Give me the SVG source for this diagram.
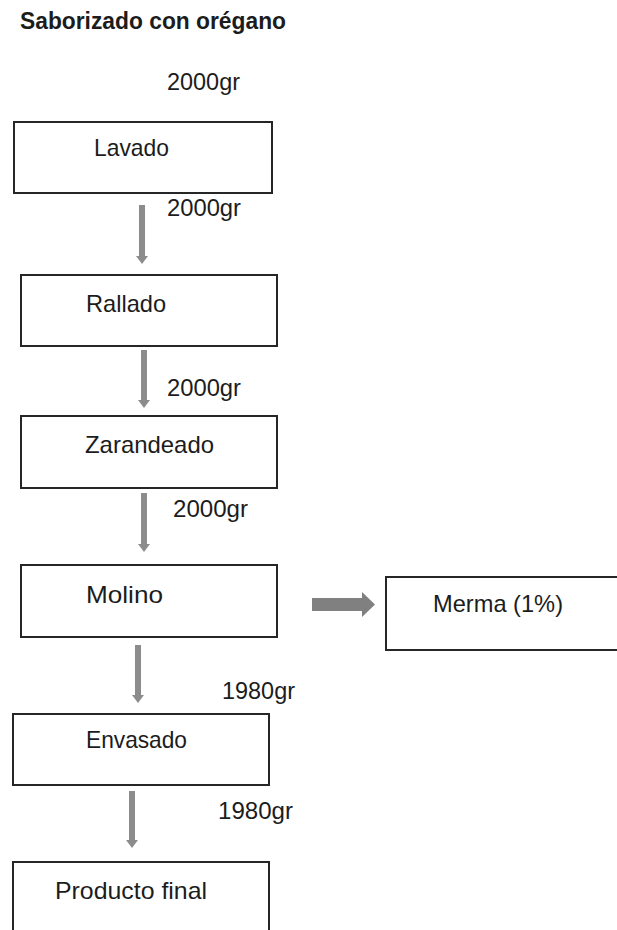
<svg xmlns="http://www.w3.org/2000/svg" width="617" height="930" viewBox="0 0 617 930">
<style>
.box{fill:#fff;stroke:#262626;stroke-width:2}
.t{font-family:"Liberation Sans",Arial,sans-serif;font-size:24px;fill:#1c1c1c}
.title{font-family:"Liberation Sans",Arial,sans-serif;font-size:23px;font-weight:bold;fill:#1c1c1c}
.c{stroke:#8c8c8c;stroke-width:6;fill:none}
</style>
<defs>
<marker id="ah" viewBox="0 0 8 12" markerWidth="8" markerHeight="12" refX="0" refY="6" orient="auto" markerUnits="userSpaceOnUse">
<path d="M0,0 L8,6 L0,12 z" fill="#8c8c8c"/>
</marker>
</defs>
<rect width="617" height="930" fill="#fff"/>
<text class="title" x="20" y="29" textLength="266" lengthAdjust="spacingAndGlyphs">Saborizado con orégano</text>
<text class="t" x="167" y="90" textLength="73" lengthAdjust="spacingAndGlyphs">2000gr</text>
<g id="lavado"><rect class="box" x="14" y="122" width="258" height="71"/><text class="t" x="94" y="156" textLength="75" lengthAdjust="spacingAndGlyphs">Lavado</text></g>
<g id="rallado"><rect class="box" x="21" y="275" width="256" height="71"/><text class="t" x="86" y="312" textLength="80" lengthAdjust="spacingAndGlyphs">Rallado</text></g>
<g id="zarandeado"><rect class="box" x="21" y="416" width="256" height="72"/><text class="t" x="85" y="453" textLength="129" lengthAdjust="spacingAndGlyphs">Zarandeado</text></g>
<g id="molino"><rect class="box" x="21" y="565" width="256" height="72"/><text class="t" x="86" y="603" textLength="77" lengthAdjust="spacingAndGlyphs">Molino</text></g>
<g id="merma"><rect class="box" x="386" y="577" width="250" height="73"/><text class="t" x="433" y="612" textLength="130" lengthAdjust="spacingAndGlyphs">Merma (1%)</text></g>
<g id="envasado"><rect class="box" x="13" y="714" width="256" height="71"/><text class="t" x="86" y="748" textLength="101" lengthAdjust="spacingAndGlyphs">Envasado</text></g>
<g id="producto"><rect class="box" x="13" y="862" width="256" height="90"/><text class="t" x="55" y="899" textLength="152" lengthAdjust="spacingAndGlyphs">Producto final</text></g>
<g id="connectors">
<line class="c" x1="142" y1="205" x2="142" y2="256" marker-end="url(#ah)"/>
<line class="c" x1="144" y1="350" x2="144" y2="400" marker-end="url(#ah)"/>
<line class="c" x1="144" y1="493" x2="144" y2="544" marker-end="url(#ah)"/>
<line class="c" x1="138" y1="645" x2="138" y2="695" marker-end="url(#ah)"/>
<line class="c" x1="132" y1="791" x2="132" y2="840" marker-end="url(#ah)"/>
<polygon points="312,598 362,598 362,592 375,604.5 362,617 362,611 312,611" fill="#808080"/>
</g>
<g id="labels">
<text class="t" x="167" y="216" textLength="74" lengthAdjust="spacingAndGlyphs">2000gr</text>
<text class="t" x="167" y="396" textLength="74" lengthAdjust="spacingAndGlyphs">2000gr</text>
<text class="t" x="173" y="517" textLength="75" lengthAdjust="spacingAndGlyphs">2000gr</text>
<text class="t" x="222" y="699" textLength="73" lengthAdjust="spacingAndGlyphs">1980gr</text>
<text class="t" x="218" y="819" textLength="75" lengthAdjust="spacingAndGlyphs">1980gr</text>
</g>
</svg>
